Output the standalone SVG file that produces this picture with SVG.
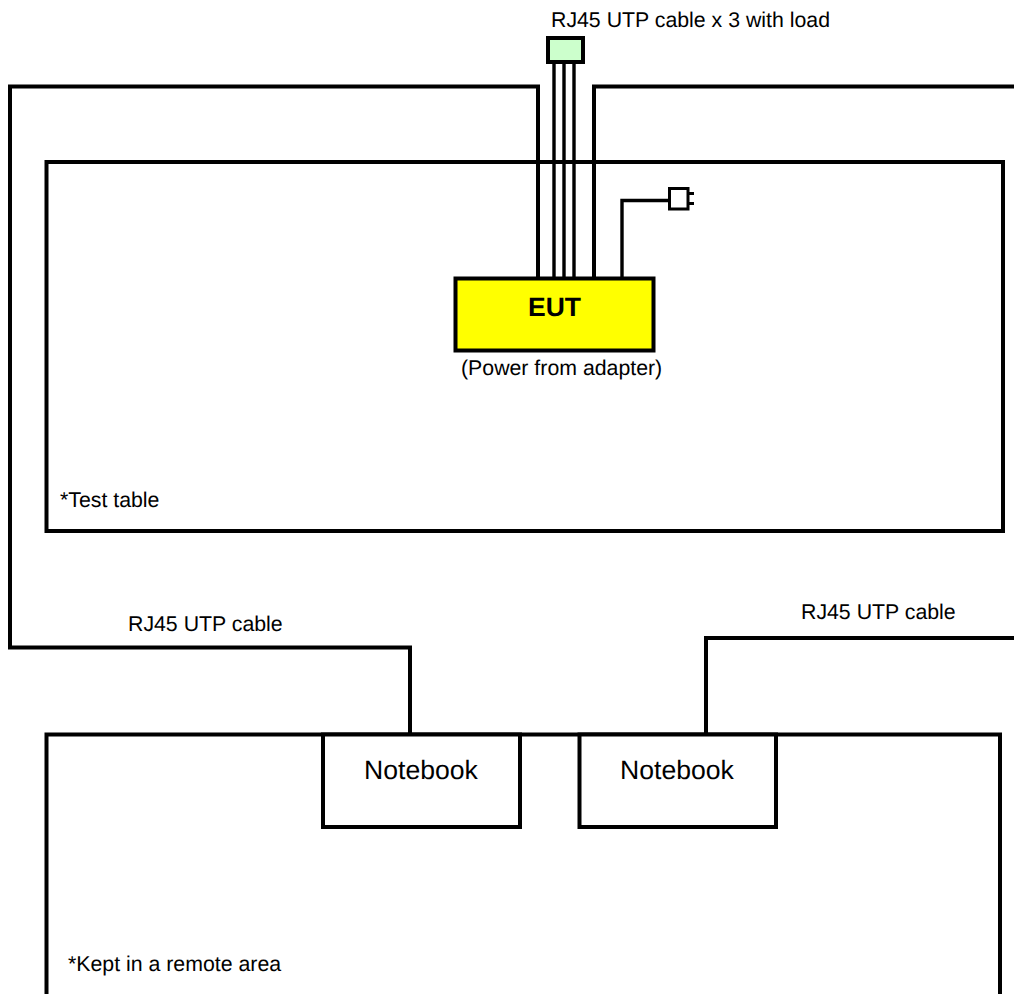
<svg xmlns="http://www.w3.org/2000/svg" width="1014" height="994" viewBox="0 0 1014 994">
<style>
.b{fill:none;stroke:#000;stroke-width:4;stroke-linejoin:miter}
.w{fill:#fff;stroke:#000;stroke-width:4}
.c{fill:none;stroke:#000;stroke-width:4}
.thin{stroke-width:3.4}
.t{font-family:"Liberation Sans",Arial,sans-serif;font-size:21.300px;fill:#000;text-rendering:geometricPrecision}
.n{font-family:"Liberation Sans",Arial,sans-serif;font-size:26.600px;fill:#000;text-rendering:geometricPrecision}
</style>
<rect width="1014" height="994" fill="#fff"/>
<g id="test-table"><rect class="b" x="46.500" y="162" width="956.500" height="369"/><text class="t" x="60" y="507">*Test table</text></g>
<g id="remote-area"><path class="b" d="M46.500 994V734.500H1000V994"/><text class="t" x="68" y="971">*Kept in a remote area</text></g>
<g id="connectors">
<path class="c" d="M538 278V86.500H10V647.500H410V734"/>
<path class="c" d="M594 278V86.500H1014"/>
<path class="c" d="M1014 638H706V734"/>
<path class="c thin" d="M554 278V62M564 278V62M574 278V62"/>
<path class="c thin" d="M622 278V200.500H668"/>
</g>
<g id="load"><rect x="548" y="38" width="35" height="24" fill="#ccffcc" stroke="#000" stroke-width="4"/><text class="t" x="551" y="27">RJ45 UTP cable x 3 with load</text></g>
<g id="plug"><rect x="669.500" y="188.500" width="18.500" height="20.500" fill="#fff" stroke="#000" stroke-width="3"/><path d="M689 193.500H694M689 203.500H694" fill="none" stroke="#000" stroke-width="3"/></g>
<g id="eut"><rect x="455.500" y="278.500" width="198" height="72" fill="#ffff00" stroke="#000" stroke-width="4"/><text x="554.500" y="315.500" text-anchor="middle" font-family="'Liberation Sans',Arial,sans-serif" font-size="26.500" font-weight="bold" text-rendering="geometricPrecision">EUT</text><text class="t" x="461" y="375">(Power from adapter)</text></g>
<g id="notebook-1"><rect class="w" x="323" y="734.500" width="197" height="92.500"/><text class="n" x="421" y="779" text-anchor="middle">Notebook</text></g>
<g id="notebook-2"><rect class="w" x="579.500" y="734.500" width="196.500" height="92.500"/><text class="n" x="677" y="779" text-anchor="middle">Notebook</text></g>
<text class="t" x="128" y="631">RJ45 UTP cable</text>
<text class="t" x="801" y="619">RJ45 UTP cable</text>
</svg>
